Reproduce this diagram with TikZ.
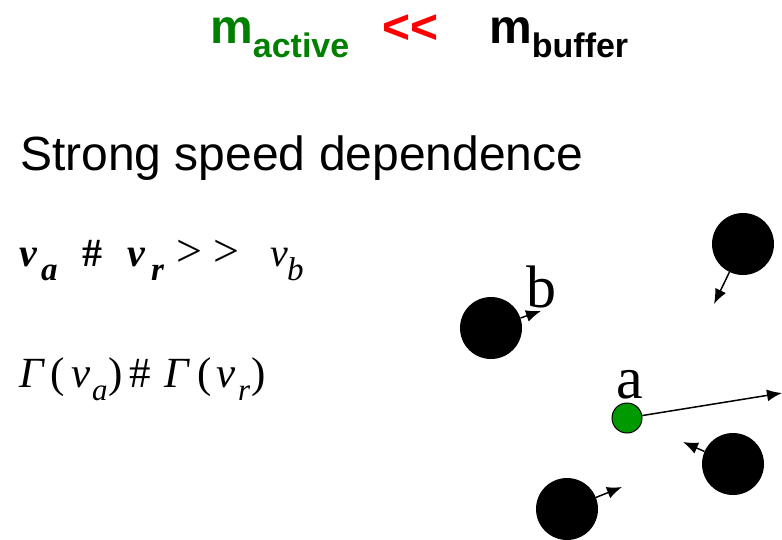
\documentclass[tikz,border=0pt]{standalone}
\usepackage{fontspec}
\setmainfont{Liberation Serif}
\newfontfamily\arialfont{Liberation Sans}
\usetikzlibrary{arrows.meta}
\definecolor{actgreen}{RGB}{0,128,0}
\definecolor{ballgreen}{RGB}{0,153,0}
\newcommand{\fsz}[1]{\fontsize{#1}{#1}\selectfont}
\begin{document}
\begin{tikzpicture}[x=1pt, y=-1pt, >={Latex[length=15pt,width=12pt]},
  ball/.style={circle, fill=black, minimum size=62pt, inner sep=0pt},
  probe/.style={circle, draw=black, fill=ballgreen, line width=1pt, minimum size=30pt, inner sep=0pt},
  velo/.style={->, line width=1.5pt},
  txt/.style={anchor=base west, inner sep=0pt},
  eqa/.style={txt, font=\fsz{40}},
  eqb/.style={txt, font=\fsz{43}}]
  \useasboundingbox (0,0) rectangle (782,539);
  % title
  \node[txt, text=actgreen] (mact) at (210,43)
    {\arialfont\bfseries\fsz{48}m\raisebox{-14pt}{\fsz{34}active}};
  \node[txt, text=red] (ll) at (382,43) {\arialfont\bfseries\fsz{48}<<};
  \node[txt] (mbuf) at (489,43)
    {\arialfont\bfseries\fsz{48}m\raisebox{-14pt}{\fsz{34}buffer}};
  \node[txt] (strong) at (20,170) {\arialfont\fsz{48}Strong speed dependence};
  % first relation
  \node[eqa] (v1) at (19,266) {\bfseries\itshape v};
  \node[eqa, font=\fsz{33}] (s1) at (41,280) {\bfseries\itshape a};
  \node[eqa] (h1) at (82,266) {\bfseries\#};
  \node[eqa] (v2) at (127,266) {\bfseries\itshape v};
  \node[eqa, font=\fsz{33}] (s2) at (151,280) {\bfseries\itshape r};
  \node[eqa, font=\fsz{46}] (g1) at (176,266) {>};
  \node[eqa, font=\fsz{46}] (g2) at (213,266) {>};
  \node[eqa] (v3) at (270,266) {\itshape v};
  \node[eqa, font=\fsz{33}] (s3) at (287,280) {\itshape b};
  % second relation
  \node[eqb] (G1) at (19,387) {\itshape Γ};
  \node[eqb] (p1) at (50,387) {(};
  \node[eqb] (w1) at (71,387) {\itshape v};
  \node[eqb, font=\fsz{31}] (t1) at (92,400) {\itshape a};
  \node[eqb] (q1) at (108,387) {)};
  \node[eqb] (h2) at (129,387) {\#};
  \node[eqb] (G2) at (164,387) {\itshape Γ};
  \node[eqb] (p2) at (197,387) {(};
  \node[eqb] (w2) at (216,387) {\itshape v};
  \node[eqb, font=\fsz{31}] (t2) at (238,400) {\itshape r};
  \node[eqb] (q2) at (251,387) {)};
  % particles
  \node[ball] (bb) at (491,328) {};
  \node[ball] (b2) at (743,244) {};
  \node[ball] (b3) at (733,464) {};
  \node[ball] (b4) at (567,509) {};
  \node[probe] (pa) at (627,418) {};
  \coordinate (vb) at (541,311);
  \coordinate (v2t) at (714,304);
  \coordinate (v3t) at (683,442);
  \coordinate (v4t) at (622,487);
  \coordinate (va) at (782,393);
  \draw[velo] (bb) -- (vb);
  \draw[velo] (b2) -- (v2t);
  \draw[velo] (b3) -- (v3t);
  \draw[velo] (b4) -- (v4t);
  \draw[velo] (pa) -- (va);
  \node[txt, font=\fsz{60}] (lb) at (526,307) {b};
  \node[txt, font=\fsz{60}] (la) at (616,398) {a};
\end{tikzpicture}
\end{document}
